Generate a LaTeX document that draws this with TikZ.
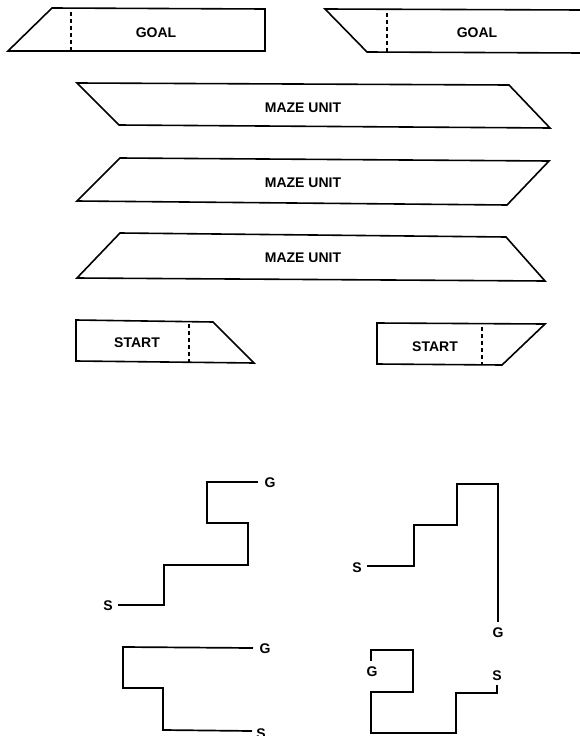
\documentclass[tikz,border=0pt]{standalone}
\usepackage{fontspec}
\setmainfont{Liberation Sans}
\begin{document}
\begin{tikzpicture}[x=1pt,y=-1pt,
  outline/.style={line width=1.6pt, line join=miter},
  dsh/.style={line width=1.4pt, dash pattern=on 4pt off 3pt},
  lbl/.style={font=\fontsize{14}{16}\selectfont\bfseries, inner sep=0pt},
  trail/.style={line width=1.7pt, line join=miter}]
\useasboundingbox (0,0) rectangle (580,736);
% GOAL pieces
\draw[outline] (8,51) -- (52,8) -- (265,9) -- (265,51) -- cycle;
\draw[dsh] (71,12) -- (71,51);
\node[lbl] (goalA) at (156,33) {GOAL};
\draw[outline] (582,10) -- (325,9) -- (367,52) -- (582,53);
\draw[dsh] (387,13) -- (387,52);
\node[lbl] (goalB) at (477,33) {GOAL};
% MAZE UNITS
\draw[outline] (77,83) -- (509,85) -- (550,128) -- (119,125) -- cycle;
\node[lbl] (mu1) at (303,108) {MAZE UNIT};
\draw[outline] (120,158) -- (549,161) -- (507,205) -- (77,201) -- cycle;
\node[lbl] (mu2) at (303,183) {MAZE UNIT};
\draw[outline] (120,233) -- (506,237) -- (545,281) -- (77,278) -- cycle;
\node[lbl] (mu3) at (303,258) {MAZE UNIT};
% START pieces
\draw[outline] (76,320) -- (213,322) -- (254,363) -- (76,361) -- cycle;
\draw[dsh] (189,324) -- (189,362);
\node[lbl] (startA) at (137,343) {START};
\draw[outline] (377,323) -- (545,324) -- (502,365) -- (377,364) -- cycle;
\draw[dsh] (482,327) -- (482,364);
\node[lbl] (startB) at (435,347) {START};
% Path 1
\node[lbl] (s1) at (108,606) {S};
\node[lbl] (g1) at (270,483) {G};
\draw[trail] (118,605) -- (164,605) -- (164,565) -- (248,565) -- (248,523) -- (207,523) -- (207,482) -- (258,482);
% Path 2
\node[lbl] (s2) at (357,568) {S};
\node[lbl] (g2) at (498,633) {G};
\draw[trail] (367,566) -- (414,566) -- (414,525) -- (457,525) -- (457,484) -- (498,484) -- (498,622);
% Path 3
\node[lbl] (g3) at (265,649) {G};
\node[lbl] (s3) at (261,734) {S};
\draw[trail] (253,648) -- (123,647) -- (123,688) -- (163,688) -- (163,730) -- (252,731);
% Path 4
\node[lbl] (g4) at (372,672) {G};
\node[lbl] (s4) at (497,676) {S};
\draw[trail] (371,661) -- (371,650) -- (413,650) -- (413,692) -- (371,692) -- (371,733) -- (456,733) -- (456,693) -- (497,693) -- (497,685);
\end{tikzpicture}
\end{document}
